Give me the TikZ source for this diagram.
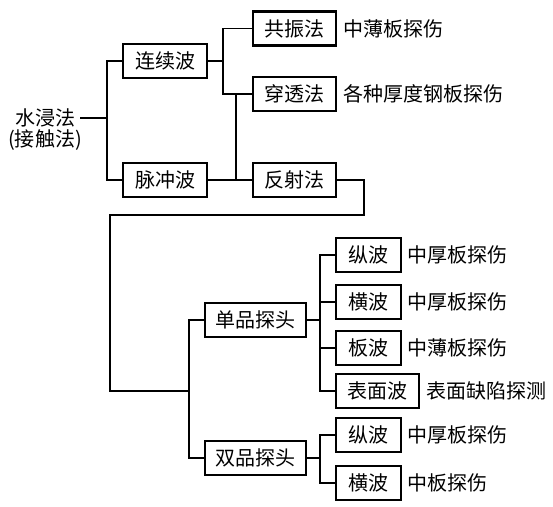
\documentclass[tikz,border=0pt]{standalone}
\usepackage{fontspec}
\setmainfont{Noto Sans CJK SC}
\begin{document}
\begin{tikzpicture}[x=1pt,y=-1pt,
  box/.style={draw,line width=2.2pt,minimum height=34pt,inner sep=0pt,font=\fontsize{20}{22}\selectfont},
  lbl/.style={anchor=west,inner sep=0pt,font=\fontsize{20}{22}\selectfont},
  conn/.style={line width=1.3pt}]
\useasboundingbox (0,0) rectangle (553,506);
% root
\node[inner sep=0pt,font=\fontsize{20}{22}\selectfont] (r1) at (45,118) {水浸法};
\node[inner sep=0pt,font=\fontsize{20}{22}\selectfont] (r2) at (45,140) {(接触法)};
% level 1
\node[box,minimum width=84pt] (lx) at (165,61) {连续波};
\node[box,minimum width=84pt] (mc) at (165,180) {脉冲波};
% level 2
\node[box,minimum width=83pt] (gz) at (294.5,28.5) {共振法};
\node[box,minimum width=83pt] (ct) at (294.5,94) {穿透法};
\node[box,minimum width=83pt] (fs) at (294.5,180) {反射法};
\node[lbl] (gzl) at (343,28.5) {中薄板探伤};
\node[lbl] (ctl) at (343,94) {各种厚度钢板探伤};
% probes
\node[box,minimum width=101pt] (dp) at (255.5,320) {单品探头};
\node[box,minimum width=101pt] (sp) at (255.5,458) {双品探头};
% waves
\node[box,minimum width=65pt] (z1) at (368.5,255) {纵波};
\node[box,minimum width=65pt] (h1) at (368.5,302) {横波};
\node[box,minimum width=65pt] (b1) at (368.5,348) {板波};
\node[box,minimum width=83pt] (bm) at (377.5,391) {表面波};
\node[box,minimum width=65pt] (z2) at (368.5,435) {纵波};
\node[box,minimum width=65pt] (h2) at (368.5,483) {横波};
\node[lbl] (z1l) at (407,255) {中厚板探伤};
\node[lbl] (h1l) at (407,302) {中厚板探伤};
\node[lbl] (b1l) at (407,348) {中薄板探伤};
\node[lbl] (bml) at (426,391) {表面缺陷探测};
\node[lbl] (z2l) at (407,435) {中厚板探伤};
\node[lbl] (h2l) at (407,483) {中板探伤};
% junctions
\coordinate (j0) at (107,118);
\coordinate (j1) at (223,61);
\coordinate (j2) at (236,180);
\coordinate (k1) at (364,215);
\coordinate (k2) at (110,215);
\coordinate (j3) at (189,391);
\coordinate (j4) at (320,320);
\coordinate (j5) at (320,458);
% connectors
\draw[conn] ([xshift=5pt]r1.east) -- (j0);
\draw[conn] (lx.west) -| (j0) |- (mc.west);
\draw[conn] (lx.east) -- (j1);
\draw[conn] (gz.west) -| (j1) |- (ct.west);
\draw[conn] (mc.east) -- (fs.west);
\draw[conn] (j2) -- (j2 |- ct.west);
\draw[conn] (fs.east) -| (k1) -- (k2) |- (j3);
\draw[conn] (dp.west) -| (j3) |- (sp.west);
\draw[conn] (dp.east) -- (j4);
\draw[conn] (z1.west) -| (j4) |- (bm.west);
\draw[conn] (j4 |- h1.west) -- (h1.west);
\draw[conn] (j4 |- b1.west) -- (b1.west);
\draw[conn] (sp.east) -- (j5);
\draw[conn] (z2.west) -| (j5) |- (h2.west);
\end{tikzpicture}
\end{document}
